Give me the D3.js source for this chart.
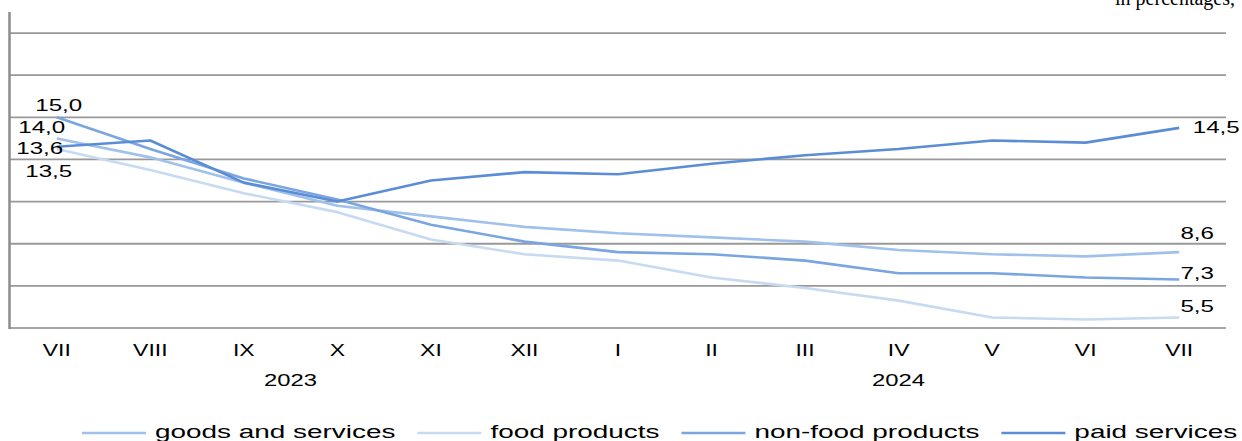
<!DOCTYPE html>
<html>
<head>
<meta charset="utf-8">
<script src="https://cdn.jsdelivr.net/npm/d3@7"></script>
<style>
  html, body { margin: 0; padding: 0; background: #fff; }
  svg { display: block; font-family: "Liberation Sans", Arial, sans-serif; }
</style>
</head>
<body>
<svg id="chart"></svg>
<script>
// Price growth by group, y/y, in percent.

const monthLabels = ['VII','VIII','IX','X','XI','XII','I','II','III','IV','V','VI','VII'];
const yearLabels  = ['2023', '2024'];
const yearSpans   = [[0, 5], [6, 12]];     // first/last month index of each year

const seriesNames = ['goods and services', 'food products', 'non-food products', 'paid services'];
const goods   = [14.0, 13.1, 11.9, 10.8, 10.3, 9.8, 9.5, 9.3, 9.1, 8.7, 8.5, 8.4, 8.6];
const food    = [13.5, 12.5, 11.4, 10.5, 9.2, 8.5, 8.2, 7.4, 6.9, 6.3, 5.5, 5.4, 5.5];
const nonFood = [15.0, 13.5, 12.1, 11.1, 9.9, 9.1, 8.6, 8.5, 8.2, 7.6, 7.6, 7.4, 7.3];
const paid    = [13.6, 13.9, 11.9, 11.0, 12.0, 12.4, 12.3, 12.8, 13.2, 13.5, 13.9, 13.8, 14.5];

const yTicks = [7, 9, 11, 13, 15, 17, 19];

const series = [
  { name: seriesNames[0], values: goods,   color: '#9fc1ea' },
  { name: seriesNames[1], values: food,    color: '#c6daf2' },
  { name: seriesNames[2], values: nonFood, color: '#7aa5e0' },
  { name: seriesNames[3], values: paid,    color: '#5b8dd6' },
];

const W = 1242, H = 441;
const M = { l: 10, r: 16, t: 12, b: 113 };   // plot: x 10..1226, y 12..328
const fmt = (v) => d3.format('.1f')(v).replace('.', ',');

// stretch text horizontally, like the source export; returns natural width
function stretch(sel, k) {
  let w0 = 0;
  sel.each(function () {
    const w = this.getComputedTextLength();
    w0 = w;
    d3.select(this).attr('textLength', w * k).attr('lengthAdjust', 'spacingAndGlyphs');
  });
  return w0;
}

const svg = d3.select('#chart').attr('width', W).attr('height', H);

const x = d3.scaleBand().domain(d3.range(monthLabels.length)).range([M.l, W - M.r]);
const cx = (i) => x(i) + x.bandwidth() / 2;
const y = d3.scaleLinear().domain([5, 20]).range([H - M.b, M.t]);

// unit note, cut off at the top like in the source
svg.append('text')
  .attr('x', 1235).attr('y', 5)
  .attr('text-anchor', 'end')
  .style('font-family', '"Liberation Serif", "Times New Roman", serif')
  .style('font-size', '20px')
  .attr('fill', '#000')
  .text('in percentages,');

// grid
svg.append('g').selectAll('line')
  .data(yTicks.concat([5]))
  .join('line')
    .attr('x1', M.l).attr('x2', W - M.r)
    .attr('y1', d => y(d)).attr('y2', d => y(d))
    .attr('stroke', d => d === 5 ? '#a6a6a6' : '#999')
    .attr('stroke-width', 1.8);

// y axis line
svg.append('line')
  .attr('x1', 9.5).attr('x2', 9.5)
  .attr('y1', y(20)).attr('y2', y(5) + 1)
  .attr('stroke', '#8c8c8c').attr('stroke-width', 2.5);

// month labels
const months = svg.append('g').selectAll('text')
  .data(monthLabels)
  .join('text')
    .attr('x', (d, i) => cx(i))
    .attr('y', 356)
    .attr('text-anchor', 'middle')
    .style('font-size', '17px')
    .text(d => d);
stretch(months, 1.35);

// years
const years = svg.append('g').selectAll('text')
  .data(yearLabels)
  .join('text')
    .attr('x', (d, i) => (x(yearSpans[i][0]) + x(yearSpans[i][1]) + x.bandwidth()) / 2)
    .attr('y', 386)
    .attr('text-anchor', 'middle')
    .style('font-size', '17px')
    .text(d => d);
stretch(years, 1.4);

// lines
const line = d3.line().x((d, i) => cx(i)).y(d => y(d));
svg.append('g').selectAll('path')
  .data(series)
  .join('path')
    .attr('d', d => line(d.values))
    .attr('fill', 'none')
    .attr('stroke', d => d.color)
    .attr('stroke-width', 2.6)
    .attr('stroke-linejoin', 'round');

// end-point value labels (offsets from the point)
const first = 0, last = monthLabels.length - 1;
const labelPos = {
  'goods and services': [[first, -15, -5], [last, 18, -13]],
  'food products':      [[first, -8, 28],  [last, 18, -5]],
  'non-food products':  [[first, 2, -6],   [last, 18, -1]],
  'paid services':      [[first, -17, 7],  [last, 37, 5]],
};
const labels = [];
series.forEach(s => labelPos[s.name].forEach(([i, dx, dy]) => {
  labels.push({ x: cx(i) + dx, y: y(s.values[i]) + dy, t: fmt(s.values[i]) });
}));
const lab = svg.append('g').selectAll('text')
  .data(labels)
  .join('text')
    .attr('x', d => d.x).attr('y', d => d.y)
    .attr('text-anchor', 'middle')
    .style('font-size', '17px')
    .text(d => d.t);
stretch(lab, 1.42);

// legend
const lg = svg.append('g');
let lx = 82;
series.forEach(s => {
  lg.append('line')
    .attr('x1', lx).attr('x2', lx + 64)
    .attr('y1', 433).attr('y2', 433)
    .attr('stroke', s.color).attr('stroke-width', 2.6);
  const t = lg.append('text')
    .attr('x', lx + 73).attr('y', 438)
    .style('font-size', '18px')
    .text(s.name);
  const w = stretch(t, 1.55);
  lx += 73 + w * 1.55 + 22;
});
</script>
</body>
</html>
